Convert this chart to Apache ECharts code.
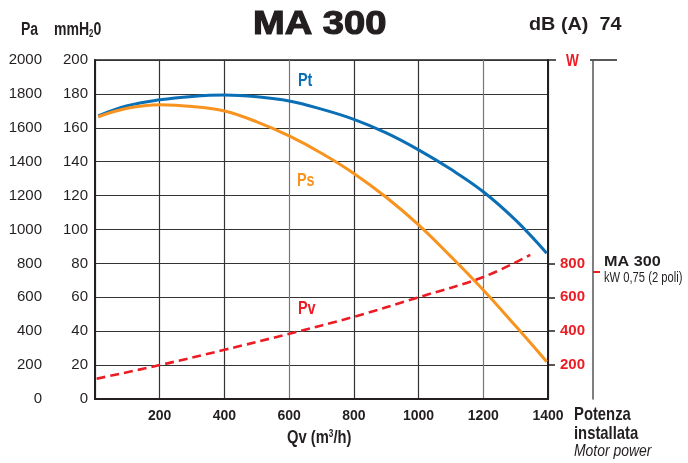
<!DOCTYPE html>
<html><head><meta charset="utf-8">
<script src="https://cdn.jsdelivr.net/npm/echarts@6/dist/echarts.min.js"></script>
<style>html,body{margin:0;padding:0;background:#fff}#c{width:688px;height:463px}</style>
</head><body><div id="c"></div>
<script>
// Data (mmH2O vs m3/h)
const flow = [10, 100, 200, 300, 400, 500, 600, 700, 800, 900, 1000, 1100, 1200, 1300, 1396];
const pt   = [167, 173, 176.5, 178.5, 179.3, 178.3, 175.8, 171, 165, 157, 147, 135.5, 122.3, 105.5, 86];
const ps   = [166.5, 171.5, 173.6, 172.6, 169.9, 163.5, 155.2, 145, 133.1, 119, 102.7, 84, 64.3, 43, 22];
const pvFlow = [5, 200, 400, 600, 800, 1000, 1200, 1345];
const pv     = [12, 20, 29, 38.5, 48.5, 60, 72, 85];
const xTicks = [200, 400, 600, 800, 1000, 1200, 1400];
const wTicks = [200, 400, 600, 800];
const motorW = [750];

const FONT = "'Liberation Sans', Arial, sans-serif";
const BLUE = '#0b6fb6', ORANGE = '#f7931e', RED = '#ec1c24', DARK = '#231f20';

const chart = echarts.init(document.getElementById('c'), null, {renderer: 'canvas'});
const zip = (a, b) => a.map((v, i) => [v, b[i]]);

function T(text, x, y, size, opts) {
  opts = opts || {};
  const weight = opts.weight || 'bold';
  const style = opts.italic ? 'italic ' : '';
  return {
    type: 'text', x: x, y: y - 0.15 * size, scaleX: opts.sx || 1, scaleY: opts.sy || 1, z: 10,
    style: Object.assign({
      text: text, x: 0, y: 0, verticalAlign: 'top', align: 'left',
      font: style + weight + ' ' + size + 'px ' + FONT, fill: opts.color || DARK,
      stroke: opts.stroke || null, lineWidth: opts.lw || 0
    }, opts.rich ? {rich: opts.rich} : {})
  };
}

chart.setOption({
  animation: false,
  grid: {left: 95, right: 140, top: 60, bottom: 64, show: true, borderColor: DARK, borderWidth: 1.5},
  xAxis: {
    type: 'value', min: 0, max: 1400, interval: 200,
    axisLine: {show: true, lineStyle: {color: DARK, width: 2}},
    axisTick: {show: false},
    splitLine: {show: true, lineStyle: {color: ['#333', '#333', '#333', '#777', '#333', '#333', '#777', '#333'], width: 1.2}},
    axisLabel: {margin: 10, color: DARK, fontFamily: FONT, fontWeight: 'bold', fontSize: 14,
      formatter: v => xTicks.includes(v) ? String(v) : ''},
  },
  yAxis: [
    { // mmH2O
      type: 'value', min: 0, max: 200, interval: 20, position: 'left',
      axisLine: {show: true, lineStyle: {color: DARK, width: 2}},
      axisTick: {show: false},
      splitLine: {show: true, lineStyle: {color: '#333', width: 1.2}},
      axisLabel: {margin: 7, color: DARK, fontFamily: FONT, fontSize: 15, formatter: v => String(v)},
    },
    { // Pa
      type: 'value', min: 0, max: 2000, interval: 200, position: 'left', offset: 46,
      axisLine: {show: false}, axisTick: {show: false}, splitLine: {show: false},
      axisLabel: {margin: 7, color: DARK, fontFamily: FONT, fontSize: 15, formatter: v => String(v)},
    },
    { // W
      type: 'value', min: 0, max: 2000, interval: 200, position: 'right', offset: 0,
      axisLine: {show: true, lineStyle: {color: DARK, width: 2}},
      axisTick: {show: true, customValues: wTicks, length: 7, lineStyle: {color: DARK, width: 1.5}},
      splitLine: {show: false},
      axisLabel: {customValues: wTicks, margin: 12, color: RED, fontFamily: FONT, fontWeight: 'bold', fontSize: 15},
    },
    { // motor power panel
      type: 'value', min: 0, max: 2000, position: 'right', offset: 45,
      axisLine: {show: true, lineStyle: {color: '#555', width: 1.5}},
      axisTick: {show: true, customValues: motorW, length: 7, lineStyle: {color: RED, width: 2}},
      axisLabel: {show: false}, splitLine: {show: false},
    }
  ],
  series: [
    {name: 'Pt', type: 'line', data: zip(flow, pt), smooth: 0.4, showSymbol: false,
      lineStyle: {color: BLUE, width: 3}},
    {name: 'Ps', type: 'line', data: zip(flow, ps), smooth: 0.4, showSymbol: false,
      lineStyle: {color: ORANGE, width: 3}},
    {name: 'Pv', type: 'line', data: zip(pvFlow, pv), smooth: 0.4, showSymbol: false,
      lineStyle: {color: RED, width: 2.6, type: [9, 5]}},
  ],
  graphic: [
    T('MA 300', 253, 13, 34, {sx: 1.12, stroke: DARK, lw: 1.2}),
    T('dB (A)  74', 529, 19, 18, {sx: 1.1}),
    T('Pa', 21, 24, 18, {sx: 0.78}),
    T('mmH{s|2}0', 54, 24, 18, {sx: 0.78, rich: {s: {font: 'bold 10px ' + FONT, fill: DARK, verticalAlign: 'bottom', padding: [8, 0, 0, 0]}}}),
    T('W', 566, 55, 17, {sx: 0.8, color: RED}),
    {type: 'line', shape: {x1: 548, y1: 60, x2: 556, y2: 60}, style: {stroke: DARK, lineWidth: 1.5}},
    {type: 'line', shape: {x1: 590, y1: 60, x2: 617, y2: 60}, style: {stroke: DARK, lineWidth: 1.5}},
    T('Pt', 298, 75, 18, {sx: 0.8, color: BLUE}),
    T('Ps', 297, 175, 18, {sx: 0.8, color: ORANGE}),
    T('Pv', 298, 303, 18, {sx: 0.8, color: RED}),
    T('MA 300', 604, 257, 15, {sx: 1.08}),
    T('kW 0,75 (2 poli)', 604, 273, 14, {sx: 0.8, weight: 'normal'}),
    T('Qv (m{s|3}/h)', 287, 432, 18, {sx: 0.82, rich: {s: {font: 'bold 10px ' + FONT, fill: DARK, verticalAlign: 'top', padding: [0, 0, 8, 0]}}}),
    T('Potenza', 574, 408, 19, {sx: 0.78}),
    T('installata', 574, 427, 19, {sx: 0.78}),
    T('Motor power', 574, 445, 17, {sx: 0.82, weight: 'normal', italic: true}),
  ]
});
</script></body></html>
